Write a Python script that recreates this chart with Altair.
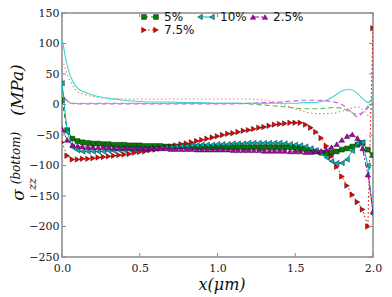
import altair as alt
import pandas as pd

# ---------------- data ----------------
x_grid = [0.0, 0.033, 0.067, 0.1, 0.133, 0.167, 0.2, 0.233, 0.267, 0.3,
          0.333, 0.367, 0.4, 0.433, 0.467, 0.5, 0.533, 0.567, 0.6, 0.633,
          0.667, 0.7, 0.733, 0.767, 0.8, 0.833, 0.867, 0.9, 0.933, 0.967,
          1.0, 1.033, 1.067, 1.1, 1.133, 1.167, 1.2, 1.233, 1.267, 1.3,
          1.333, 1.367, 1.4, 1.433, 1.467, 1.5, 1.533, 1.567, 1.6, 1.633,
          1.667, 1.7, 1.733, 1.767, 1.8, 1.833, 1.867, 1.9, 1.933, 1.967, 2.0]

bottom_5 = [7, -42, -56, -60, -62, -63, -64, -64, -65, -65,
            -66, -66, -66, -67, -67, -67, -68, -68, -68, -68,
            -69, -69, -69, -69, -69, -70, -70, -70, -70, -70,
            -70, -70, -70, -70, -70, -70, -70, -70, -70, -70,
            -70, -70, -70, -70, -70, -71, -72, -73, -75, -77,
            -79, -80, -79, -77, -74, -72, -69, -66, -63, -74, -83]

bottom_7_5 = [-62, -84, -90, -90, -89, -89, -88, -87, -86, -85,
              -84, -83, -82, -81, -79, -78, -77, -75, -74, -72,
              -70, -69, -67, -65, -64, -62, -60, -58, -56, -54,
              -52, -50, -48, -47, -45, -43, -42, -40, -38, -37,
              -35, -33, -32, -31, -30, -30, -30, -33, -38, -45,
              -55, -68, -85, -102, -118, -133, -148, -160, -172, -200, 125]

bottom_10 = [35, -45, -70, -75, -77, -77, -77, -77, -77, -76,
             -76, -75, -75, -74, -74, -73, -73, -72, -72, -71,
             -70, -70, -69, -68, -68, -67, -67, -66, -66, -66,
             -65, -65, -65, -64, -64, -64, -63, -63, -63, -63,
             -63, -63, -63, -64, -65, -66, -67, -69, -72, -75,
             -80, -87, -93, -96, -96, -90, -76, -63, -62, -100, -180]

bottom_2_5 = [-40, -58, -66, -68, -69, -70, -70, -70, -70, -70,
              -71, -71, -71, -71, -71, -71, -72, -72, -72, -72,
              -72, -73, -73, -73, -73, -73, -74, -74, -74, -74,
              -74, -74, -74, -75, -75, -75, -75, -75, -75, -76,
              -76, -76, -76, -76, -77, -77, -77, -78, -78, -77,
              -76, -74, -70, -65, -58, -52, -49, -55, -72, -115, -175]

thin_x = [0, 0.01, 0.02, 0.04, 0.06, 0.08, 0.1, 0.15, 0.2, 0.3, 0.4, 0.5,
          0.6, 0.7, 0.8, 0.9, 1.0, 1.1, 1.2, 1.3, 1.4, 1.5, 1.55, 1.6, 1.65,
          1.7, 1.75, 1.8, 1.85, 1.9, 1.95, 1.97, 1.99, 2.0]
thin_10 = [107, 95, 80, 58, 43, 33, 27, 20, 15, 10, 7, 5, 4, 4, 3, 3, 2, 2,
           2, 2, 2, 2, 3, 3, 4, 7, 14, 22, 25, 18, 6, 3, 8, 14]
thin_7_5 = [73, 68, 60, 45, 35, 26, 21, 16, 13, 10, 9, 9, 9, 9, 9, 9, 9, 9,
            9, 7, 2, -7, -11, -14, -15, -15, -14, -11, -7, -4, -12, -18, -8, 0]
thin_5 = [20, 15, 10, 5, 3, 2, 2, 2, 2, 2, 2, 2, 2, 2, 2, 2, 2, 2, 1, -1,
          -3, -6, -7, -7, -7, -6, -5, -6, -12, -16, -10, -5, 0, 0]
thin_2_5 = [25, 18, 10, 4, 2, 1, 1, 1, 1, 1, 1, 1, 1, 1, 1, 1, 1, 1, 2, 3,
            4, 6, 7, 7, 7, 6, 4, 0, -10, -20, -8, -2, 2, 2]

labels = ["5%", "7.5%", "10%", "2.5%"]
colors = ["#008000", "#ee0000", "#00b5b5", "#b000b0"]
shapes = ["square", "triangle-right", "triangle-left", "triangle-up"]
dashes = [[4, 3], [1.5, 2.5], None, [6, 2, 2, 2]]
bottom_series = [bottom_5, bottom_7_5, bottom_10, bottom_2_5]

thin_colors = ["#5cbf5c", "#ff7777", "#40d8cc", "#dd55dd"]
thin_dashes = [[5, 3], [1.5, 2.5], None, [5, 3]]
thin_series = [thin_5, thin_7_5, thin_10, thin_2_5]

xticks = [0.0, 0.5, 1.0, 1.5, 2.0]
yticks = [-250, -200, -150, -100, -50, 0, 50, 100, 150]

# ---------------- layout ----------------
W, H = 311, 244
FRAME = "#8a8a8a"
SERIF = "'DejaVu Serif', 'Liberation Serif', serif"
SANS = "'DejaVu Sans', sans-serif"

xs = alt.Scale(domain=[0, 2], nice=False, zero=False)
ys = alt.Scale(domain=[-250, 150], nice=False, zero=False)
x_axis = alt.Axis(values=xticks, format=".1f", labelFont=SERIF, labelFontSize=11,
                  labelColor="#222", ticks=False, domain=False, grid=False,
                  labelPadding=5, labelFlush=False, labelOverlap=False, title=None)
y_axis = alt.Axis(values=yticks, format="d", labelFont=SERIF, labelFontSize=11,
                  labelColor="#222", ticks=False, domain=False, grid=False,
                  labelPadding=3, labelFlush=False, labelOverlap=False, title=None)


def X(f):
    return alt.X(f, type="quantitative", scale=xs, axis=x_axis)


def Y(f):
    return alt.Y(f, type="quantitative", scale=ys, axis=y_axis)


layers = []

# thin lines (no markers)
for yv, c, d in zip(thin_series, thin_colors, thin_dashes):
    kw = dict(color=c, strokeWidth=1.1, interpolate="monotone", clip=True)
    if d:
        kw["strokeDash"] = d
    layers.append(alt.Chart(pd.DataFrame({"x": thin_x, "y": yv}))
                  .mark_line(**kw).encode(x=X("x"), y=Y("y")))

# marker series with connecting lines
for yv, c, s, d in zip(bottom_series, colors, shapes, dashes):
    df = pd.DataFrame({"x": x_grid, "y": yv})
    kw = dict(color=c, strokeWidth=1.0, clip=True)
    if d:
        kw["strokeDash"] = d
    layers.append(alt.Chart(df).mark_line(**kw).encode(x=X("x"), y=Y("y")))
    size = 24 if s == "square" else 30
    layers.append(alt.Chart(df).mark_point(shape=s, filled=True, size=size, fill=c,
                                           stroke="#000", strokeWidth=0.4, opacity=1,
                                           clip=True)
                  .encode(x=X("x"), y=Y("y")))

# inward ticks on all four sides
ydf = pd.DataFrame({"v": yticks})
xdf = pd.DataFrame({"v": xticks})
layers.append(alt.Chart(ydf).mark_rule(color=FRAME, strokeWidth=1)
              .encode(y=Y("v"), x=alt.value(0), x2=alt.value(4)))
layers.append(alt.Chart(ydf).mark_rule(color=FRAME, strokeWidth=1)
              .encode(y=Y("v"), x=alt.value(W - 4), x2=alt.value(W)))
layers.append(alt.Chart(xdf).mark_rule(color=FRAME, strokeWidth=1)
              .encode(x=X("v"), y=alt.value(H - 4), y2=alt.value(H)))
layers.append(alt.Chart(xdf).mark_rule(color=FRAME, strokeWidth=1)
              .encode(x=X("v"), y=alt.value(0), y2=alt.value(4)))

# legend (3 columns, column-major like matplotlib)
leg_pos = [(102, 4), (102, 17), (158, 4), (211, 4)]
for (tx, ty), lab, c, s, d in zip(leg_pos, labels, colors, shapes, dashes):
    one = pd.DataFrame({"t": [lab]})
    kw = dict(color=c, strokeWidth=1.0)
    if d:
        kw["strokeDash"] = d
    layers.append(alt.Chart(one).mark_rule(**kw)
                  .encode(x=alt.value(tx - 20), x2=alt.value(tx - 8), y=alt.value(ty)))
    size = 24 if s == "square" else 30
    for mx in (tx - 20, tx - 8):
        layers.append(alt.Chart(one).mark_point(shape=s, filled=True, size=size, fill=c,
                                                stroke="#000", strokeWidth=0.4, opacity=1)
                      .encode(x=alt.value(mx), y=alt.value(ty)))
    layers.append(alt.Chart(one).mark_text(align="left", baseline="middle",
                                           font=SANS, fontSize=12, color="#111")
                  .encode(text="t:N", x=alt.value(tx), y=alt.value(ty)))

# axis titles (math-style)
title_parts = [
    ("σ", -43, 182, 17),
    ("(bottom)", -46, 145, 12),
    ("zz", -29, 171, 11),
    ("(MPa)", -44, 77, 17),
]
for txt, tx, ty, fs in title_parts:
    layers.append(alt.Chart(pd.DataFrame({"t": [txt]}))
                  .mark_text(align="center", baseline="middle", angle=270, font=SERIF,
                             fontStyle="italic", fontSize=fs, color="#111")
                  .encode(text="t:N", x=alt.value(tx), y=alt.value(ty)))
layers.append(alt.Chart(pd.DataFrame({"t": ["x(μm)"]}))
              .mark_text(align="center", baseline="middle", font=SERIF,
                         fontStyle="italic", fontSize=16, color="#111")
              .encode(text="t:N", x=alt.value(160), y=alt.value(272)))

chart = (alt.layer(*layers)
         .properties(width=W, height=H,
                     autosize=alt.AutoSizeParams(type="none"),
                     padding={"left": 54, "top": 5, "right": 11, "bottom": 38},
                     background="white")
         .configure_view(stroke=FRAME, strokeWidth=1.5))

chart.save("out.html", embed_options={"renderer": "svg", "actions": False})
